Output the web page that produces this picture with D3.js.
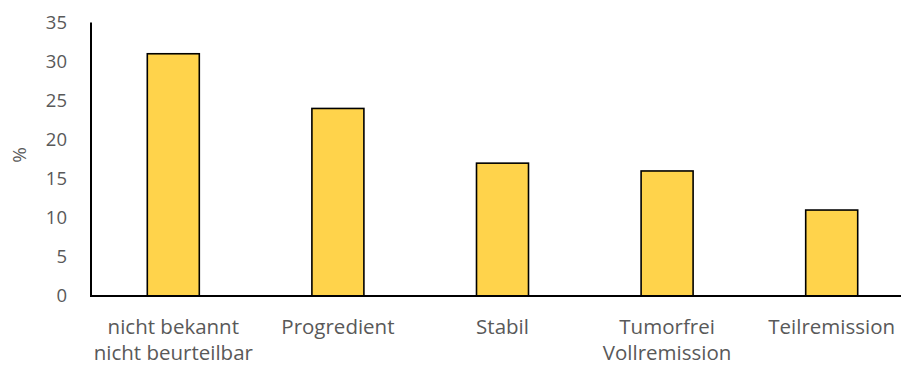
<!DOCTYPE html>
<html>
<head>
<meta charset="utf-8">
<script src="https://cdn.jsdelivr.net/npm/d3@7"></script>
<style>
  html, body { margin: 0; padding: 0; background: #fff; }
  svg { display: block; }
  text { font-family: "Open Sans", "Noto Sans", sans-serif; fill: #595959; }
</style>
</head>
<body>
<svg id="chart" width="901" height="365"></svg>
<script>
// Tumour status categories (two-line labels split on "\n")
const categories = ["nicht bekannt\nnicht beurteilbar", "Progredient", "Stabil", "Tumorfrei\nVollremission", "Teilremission"];
// Share of patients in percent
const values = [31, 24, 17, 16, 11];
// Y axis ticks
const yTicks = [0, 5, 10, 15, 20, 25, 30, 35];

const svg = d3.select("#chart");
const plot = { left: 91, right: 914, top: 22.5, bottom: 296 };

const x = d3.scaleBand().domain(categories).range([plot.left, plot.right]).paddingInner(0).paddingOuter(0);
const y = d3.scaleLinear().domain([0, 35]).range([plot.bottom, plot.top]);
const barW = 52;

// Bars
svg.append("g").selectAll("rect")
  .data(values)
  .join("rect")
  .attr("x", (d, i) => x(categories[i]) + x.bandwidth() / 2 - barW / 2)
  .attr("y", d => y(d))
  .attr("width", barW)
  .attr("height", d => y(0) - y(d))
  .attr("fill", "#FFD34B")
  .attr("stroke", "#000")
  .attr("stroke-width", 1.6);

// Y axis line
svg.append("line")
  .attr("x1", plot.left).attr("x2", plot.left)
  .attr("y1", plot.top).attr("y2", plot.bottom)
  .attr("stroke", "#000").attr("stroke-width", 2);

// X axis line (baseline)
svg.append("line")
  .attr("x1", plot.left - 1).attr("x2", 901)
  .attr("y1", plot.bottom).attr("y2", plot.bottom)
  .attr("stroke", "#000").attr("stroke-width", 2);

// Y tick labels
svg.append("g").selectAll("text")
  .data(yTicks)
  .join("text")
  .attr("x", 67)
  .attr("y", d => y(d))
  .attr("dy", "0.35em")
  .attr("text-anchor", "end")
  .attr("font-size", 18.5)
  .text(d => d);

// Y axis title
svg.append("text")
  .attr("transform", "translate(26,155) rotate(-90)")
  .attr("text-anchor", "middle")
  .attr("font-size", 19)
  .text("%");

// Category labels
const catG = svg.append("g").selectAll("text")
  .data(categories)
  .join("text")
  .attr("text-anchor", "middle")
  .attr("font-size", 20.5);
catG.each(function(d) {
  const t = d3.select(this);
  const cx = x(d) + x.bandwidth() / 2;
  d.split("\n").forEach((line, k) => {
    t.append("tspan")
      .attr("x", cx)
      .attr("y", 334 + k * 25.5)
      .text(line);
  });
});
</script>
</body>
</html>
